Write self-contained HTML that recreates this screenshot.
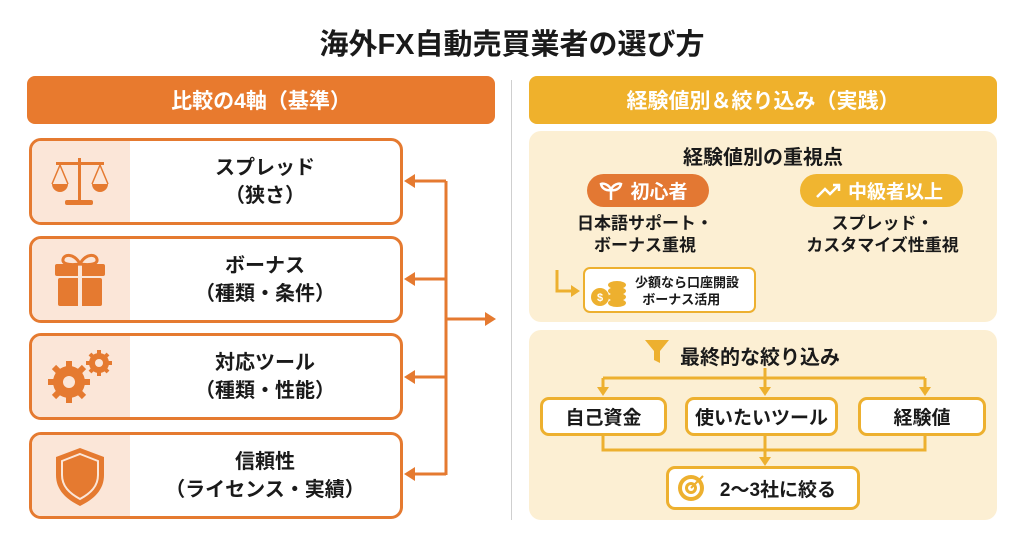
<!DOCTYPE html>
<html><head><meta charset="utf-8"><style>
*{margin:0;padding:0;box-sizing:border-box}
body{width:1024px;height:541px;background:#fff;position:relative;overflow:hidden;font-family:"Liberation Sans","Noto Sans CJK JP",sans-serif;font-weight:bold;color:#1a1a1a}
.a{position:absolute}
.t{text-align:center;white-space:nowrap}
.hdr{border-radius:8px;color:#fff;font-size:21px;display:flex;align-items:center;justify-content:center}
.card{left:29px;width:374px;height:87px;border:3px solid #E57A30;border-radius:12px;background:#fff;overflow:hidden}
.card .ic{position:absolute;left:0;top:0;width:98px;height:100%;background:#FBE6D8}
.card .tx{position:absolute;left:98px;right:0;top:0;bottom:0;display:flex;flex-direction:column;justify-content:center;align-items:center;font-size:20px;line-height:28px}
.panel{background:#FCEFD3;border-radius:12px;left:529px;width:468px}
.box{background:#fff;border:3px solid #EDB02F;border-radius:9px;display:flex;align-items:center;justify-content:center;font-size:19px}
</style></head><body>
<div class="a t" style="left:0;width:1024px;top:21px;font-size:29px">海外FX自動売買業者の選び方</div>
<div class="a hdr" style="left:27px;top:76px;width:468px;height:48px;background:#E87A2E">比較の4軸（基準）</div>
<div class="a hdr" style="left:529px;top:76px;width:468px;height:48px;background:#EFB12C">経験値別＆絞り込み（実践）</div>
<div class="a" style="left:511px;top:80px;width:1px;height:440px;background:#cfcfcf"></div>

<div class="a card" style="top:138px"><div class="ic"></div><div class="tx"><div>スプレッド</div><div>（狭さ）</div></div></div>
<div class="a card" style="top:236px"><div class="ic"></div><div class="tx"><div>ボーナス</div><div>（種類・条件）</div></div></div>
<div class="a card" style="top:333px"><div class="ic"></div><div class="tx"><div>対応ツール</div><div>（種類・性能）</div></div></div>
<div class="a card" style="top:432px"><div class="ic"></div><div class="tx"><div>信頼性</div><div>（ライセンス・実績）</div></div></div>

<div class="a panel" style="top:131px;height:191px"></div>
<div class="a panel" style="top:330px;height:190px"></div>
<div class="a t" style="left:529px;width:468px;top:141px;font-size:20px">経験値別の重視点</div>
<div class="a" style="left:587px;top:174px;width:122px;height:33px;border-radius:17px;background:#E37833;color:#fff;font-size:19px;display:flex;align-items:center;justify-content:center;padding-left:22px">初心者</div>
<div class="a" style="left:800px;top:174px;width:163px;height:33px;border-radius:17px;background:#F0B530;color:#fff;font-size:19px;display:flex;align-items:center;justify-content:center;padding-left:28px">中級者以上</div>
<div class="a t" style="left:560px;width:170px;top:213px;font-size:17px;line-height:22px">日本語サポート・<br>ボーナス重視</div>
<div class="a t" style="left:795px;width:175px;top:213px;font-size:17px;line-height:22px">スプレッド・<br>カスタマイズ性重視</div>
<div class="a" style="left:583px;top:267px;width:173px;height:46px;background:#fff;border:2px solid #EDB02F;border-radius:7px;font-size:13px;line-height:17px;padding:5px 0 0 50px">少額なら口座開設<br>&nbsp;&nbsp;ボーナス活用</div>

<div class="a" style="left:680px;top:341px;font-size:20px">最終的な絞り込み</div>
<div class="a box" style="left:540px;top:397px;width:127px;height:39px">自己資金</div>
<div class="a box" style="left:685px;top:397px;width:153px;height:39px">使いたいツール</div>
<div class="a box" style="left:858px;top:397px;width:128px;height:39px">経験値</div>
<div class="a box" style="left:666px;top:466px;width:194px;height:44px;padding-left:30px">2〜3社に絞る</div>

<svg class="a" style="left:0;top:0" width="1024" height="541">
<g fill="none" stroke="#E57A30" stroke-width="3">
<path d="M446 181V475M412 181H446M412 279H446M412 377H446M412 474H446M446 319H486"/>
</g>
<g fill="#E57A30">
<path d="M404 181l11-7v14zM404 279l11-7v14zM404 377l11-7v14zM404 474l11-7v14zM496 319l-11-7v14z"/>
<rect x="78" y="158" width="3" height="44"/><rect x="65" y="200" width="28" height="5" rx="2"/><rect x="56" y="162" width="48" height="3"/>
<path d="M52 184h16a8 8 0 0 1-16 0zM92 184h16a8 8 0 0 1-16 0z"/>
<path d="M60 165l-8 19M60 165l8 19M100 165l-8 19M100 165l8 19" stroke="#E57A30" stroke-width="1.5" fill="none"/>
<rect x="55" y="264" width="50" height="12" rx="2"/><rect x="58" y="278" width="44" height="28" rx="2"/>
<rect x="78" y="264" width="4" height="42" fill="#FBE6D8"/>
<path d="M80 264c-6-12-18-10-17-3 1 4 10 4 17 3zM80 264c6-12 18-10 17-3-1 4-10 4-17 3z" fill="none" stroke="#E57A30" stroke-width="3"/>
<circle cx="69" cy="382" r="16"/>
<circle cx="99" cy="363" r="10"/>
<g stroke="#E57A30" stroke-width="6"><path d="M69 361v42M48 382h42M54 367l30 30M84 367l-30 30"/></g>
<g stroke="#E57A30" stroke-width="4"><path d="M99 350v26M86 363h26M90 354l18 18M108 354l-18 18"/></g>
<circle cx="69" cy="382" r="6" fill="#FBE6D8"/><circle cx="99" cy="363" r="4" fill="#FBE6D8"/>
<path d="M80 448l24 9v18c0 15-10 24-24 31-14-7-24-16-24-31v-18z"/>
<path d="M80 454l18 7v14c0 11-7 18-18 24-11-6-18-13-18-24v-14z" fill="none" stroke="#FBE6D8" stroke-width="2"/>
</g>
<g fill="none" stroke="#EDB02F" stroke-width="3">
<path d="M557 270V291H572"/>
<path d="M765 368V378M603 378H925M603 378V388M765 378V388M925 378V388"/>
<path d="M603 436V450H925V436M765 436V458"/>
</g>
<g fill="#EDB02F">
<path d="M580 291l-9-6v12zM603 396l-6-9h12zM765 396l-6-9h12zM925 396l-6-9h12zM765 466l-6-9h12z"/>
<path d="M645 340h24l-9 11v12l-6-3v-9z"/>
<circle cx="600" cy="297" r="9"/>
<ellipse cx="617" cy="285" rx="9" ry="4"/><ellipse cx="617" cy="291" rx="9" ry="4"/><ellipse cx="617" cy="297" rx="9" ry="4"/><ellipse cx="617" cy="303" rx="9" ry="4"/>
<circle cx="691" cy="488" r="13"/><circle cx="691" cy="488" r="9" fill="#fff"/><circle cx="691" cy="488" r="6"/><circle cx="691" cy="488" r="3" fill="#fff"/>
</g>
<text x="600" y="301" font-size="11" fill="#fff" text-anchor="middle" font-family="Liberation Sans">$</text>
<path d="M691 488l12-12" stroke="#EDB02F" stroke-width="2"/>
<g stroke="#fff" stroke-width="2.5" fill="none">
<path d="M611 200v-10M611 190c-2-6-8-7-10-6 1 5 6 7 10 6M611 190c2-6 8-7 10-6-1 5-6 7-10 6"/>
<path d="M817 197l8-8 5 5 9-9M833 185h6v6"/>
</g>
</svg>
</body></html>
